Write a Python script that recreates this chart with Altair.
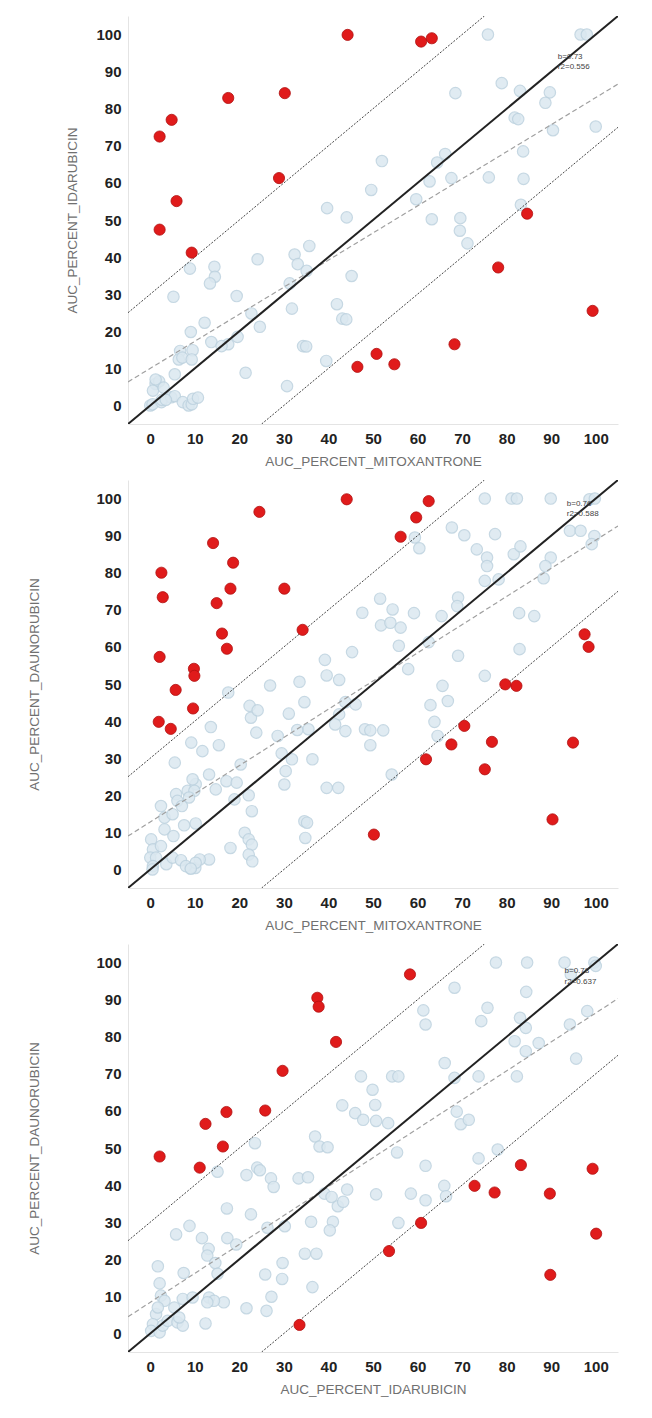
import altair as alt
import pandas as pd

# ---------------- data ----------------
# panel titles
x_titles = ["AUC_PERCENT_MITOXANTRONE", "AUC_PERCENT_MITOXANTRONE", "AUC_PERCENT_IDARUBICIN"]
y_titles = ["AUC_PERCENT_IDARUBICIN", "AUC_PERCENT_DAUNORUBICIN", "AUC_PERCENT_DAUNORUBICIN"]

# regression annotation
reg_slope = [0.73, 0.76, 0.78]
reg_intercept = [10.0, 12.8, 8.4]
reg_r2 = ["0.556", "0.588", "0.637"]
band_offset = 30
annot_x = [91.5, 93.5, 93.0]
annot_y = [94.0, 98.5, 97.6]

p1_blue = [(75.8,100),(96.6,100),(98,100),(78.9,86.9),(68.5,84.2),(83,84.8),(89.7,84.4),(88.7,81.6),
 (81.8,77.6),(82.6,77.2),(90.4,74.2),(100,75.2),(83.7,68.5),(52,65.9),(66.2,67.8),(64.4,65.5),
 (62.7,60.4),(67.6,61.3),(76,61.5),(83.8,61.1),(49.6,58.1),(59.7,55.6),(83.2,54.1),(39.7,53.2),
 (44.1,50.7),(63.2,50.2),(69.6,50.5),(69.5,47.1),(71.2,43.7),(35.7,43),(32.4,40.7),(33.1,38.1),
 (35.1,36.3),(24.1,39.4),(14.4,37.4),(14.5,34.7),(13.4,32.9),(8.9,36.9),(31.3,32.9),(45.2,34.9),
 (5.2,29.3),(19.4,29.5),(31.8,26.1),(41.9,27.3),(43.1,23.4),(44,23.2),(22.7,24.8),(24.6,21.2),
 (12.2,22.3),(19.6,18.5),(17.5,16.5),(13.7,17.1),(16,16),(9.1,19.8),(34.3,16),(35,15.9),(39.5,12),
 (21.4,8.8),(30.7,5.2),(6.7,14.7),(9.5,14.9),(6.4,12.4),(7.2,12.9),(9.3,12.4),(5.5,8.4),(1.2,5.8),
 (0.6,4.0),(2,6.5),(1.2,7.0),(0,0),(0.5,0.3),(2.5,0.9),(2.6,1.5),(4.7,2.2),(5.5,2.5),(7.3,0.9),
 (8.6,0),(9.3,0.3),(9.6,1.8),(10.7,2.1),(3,4.8),(3.5,1.5)]
p1_red = [(44.3,99.9),(60.8,98.1),(63.2,99.0),(17.5,82.9),(30.2,84.2),(4.8,77.0),(2.1,72.5),
 (28.9,61.3),(5.9,55.1),(2.1,47.4),(9.3,41.2),(84.6,51.7),(78.1,37.2),(99.3,25.5),(68.3,16.5),
 (50.8,13.9),(46.5,10.4),(54.8,11.1)]

p2_blue = [(75.1,100),(81.1,100),(82.3,100),(89.9,100),(98.6,99.8),(99.8,100),
 (67.7,92.2),(70.5,90.1),(77.4,90.4),(59.4,89.5),(60.4,86.6),(73.3,86.3),(75.6,84.1),(75.6,81.8),
 (81.6,85),(83.1,87.1),(89.9,84.1),(88.7,81.8),(94.2,91.3),(96.6,91.3),(99.7,89.9),(99.1,87.7),
 (75.1,77.8),(78.2,78.2),(88.3,78.5),(69.1,73.3),(68.9,71),(65.4,68.3),(82.8,69.1),(86.2,68.3),
 (51.6,73),(54.4,70.1),(51.8,65.8),(53.9,66.5),(56.2,65.2),(59.2,69.1),(47.6,69.2),(55.8,60.3),
 (62.5,61.3),(82.9,59.4),(57.9,54),(69.1,57.6),(45.3,58.6),(39.2,56.5),(39.6,52.3),(42.4,51.1),
 (26.9,49.6),(33.5,50.6),(75.1,52.2),(65.6,49.5),(66.8,45.4),(62.9,44.3),(63.8,39.8),(64.5,36),
 (43.8,45.1),(46.1,44.5),(42.4,41.8),(41.5,39.1),(43.8,37.3),(48.2,37.8),(49.4,37.5),(49.4,33.5),
 (52.3,37.5),(34.6,45.1),(35.5,37.8),(33,37.6),(31.1,42),(22.3,44.1),(22.6,40.9),(24.1,42.9),
 (23.8,36.9),(17.5,47.7),(13.6,38.4),(9.2,34.2),(11.7,31.9),(15.4,33.5),(28.6,36),(29.5,31.3),
 (31.8,29.7),(30.4,26.5),(30.1,22.9),(36.4,29.7),(5.5,28.8),(20.3,28.3),(13.2,25.6),(14.7,21.6),
 (17.1,23.8),(19.4,23.4),(18.9,18.9),(22.1,20),(22.8,15.7),(39.6,22),(42.2,22),(34.6,13),
 (35.2,12.6),(34.8,8.5),(54.2,25.6),(21.2,9.9),(22.1,8.1),(22.8,6.7),(22.1,4),(22.9,2.2),(18,5.8),
 (13.2,2.7),(10.1,0.4),(11.1,2.7),(9,0.4),
 (2.4,17.1),(5.8,20.3),(6.1,18.5),(8.4,21.2),(10.2,23),(9.5,24.3),(9.9,21.2),(8.7,19.4),(3.2,14),
 (5,14.9),(7.1,17.1),(3.2,10.8),(5.2,9),(7.6,11.9),(10.2,12.4),(0.2,8.1),(0.6,5.4),(2.4,6.3),
 (0,3.2),(1.3,3.2),(0.6,0.9),(0.5,0),(3.6,1.4),(5,3.2),(6.9,2.5),(8,0.9),(10.2,1.8),(9.1,0.2)]
p2_red = [(44.1,99.8),(24.5,96.4),(62.5,99.3),(59.7,94.9),(56.2,89.7),(14.1,88.0),(2.5,80.0),
 (18.6,82.7),(2.8,73.4),(18.0,75.7),(30.1,75.7),(14.9,71.8),(16.1,63.6),(34.2,64.6),(2.1,57.3),
 (17.2,59.5),(9.8,54.1),(9.9,52.2),(5.7,48.4),(9.6,43.4),(1.9,39.8),(4.6,37.9),(79.7,49.9),
 (82.2,49.5),(70.5,38.7),(67.6,33.7),(76.7,34.4),(61.9,29.7),(75.1,27.0),(94.9,34.2),(97.5,63.4),
 (98.4,60.0),(90.3,13.5),(50.2,9.4)]

p3_blue = [(77.6,100),(84.6,100),(93,100),(94.4,96.8),(99.7,100),(100,99.1),(68.3,93.2),(84.4,92.1),
 (61.3,87.1),(61.8,83.3),(75.7,87.8),(74.3,84.2),(83,85.1),(84.3,82.4),(98.1,86.9),(94.2,83.3),
 (81.8,78.8),(87.2,78.3),(84.3,76.1),(95.6,74.1),(66.1,72.9),(68.3,68.9),(73.7,69.3),(82.3,69.3),
 (47.3,69.3),(54.3,69.3),(55.7,69.3),(49.9,65.7),(50.5,61.6),(43.1,61.5),(46,59.4),(47.8,57.6),
 (50.7,57.3),(53.4,56.7),(68.8,59.8),(69.7,56.4),(71.5,57.6),(55.4,48.8),(73.7,47.2),(78,49.6),
 (61.8,45.2),(37,53.1),(38,50.4),(39.8,50.2),(23.5,51.3),(21.6,42.7),(24,44.7),(24.6,44),
 (27.1,41.8),(27.7,39.5),(15.1,43.6),(33.3,41.8),(35.4,42.1),(39.1,37.7),(40.7,36.8),(42.1,34.3),
 (43.3,35.5),(44.2,38.8),(41,30.1),(40.3,27.8),(50.7,37.5),(58.5,37.7),(61.8,35.9),(55.7,29.8),
 (66,39.8),(66.4,37),(36.1,30.1),(26.3,28.5),(30.2,28.9),(17.2,33.7),(22.6,32.1),(17.3,25.7),
 (19.3,24),(5.8,26.7),(8.8,29),(11.6,25.7),(13.1,22.8),(12.8,21),(14.6,19),(15.1,16.1),(34.7,21.5),
 (37.3,21.5),(29.7,19),(29.6,14.7),(25.8,15.9),(36.4,12.5),(27.2,9.9),(26.1,6.1),(21.6,6.8),
 (16.5,8.4),(1.7,18.1),(2.1,13.5),(7.5,16.3),
 (2.4,10.2),(3.2,8.8),(5.4,7),(7.3,9.3),(9.5,9.7),(13.2,9.7),(14.3,8.8),(12.8,8.4),(1.3,5.2),
 (1.7,7),(0.6,2.5),(0.2,0.7),(2.1,0.3),(2.8,2.1),(3.9,3.4),(6.1,3),(7.3,2.1),(6.5,4.3),(12.4,2.7)]
p3_red = [(58.3,96.8),(37.5,90.5),(37.8,88.1),(41.7,78.6),(29.7,70.8),(12.4,56.5),(17.1,59.7),
 (25.8,60.1),(16.3,50.4),(2.1,47.7),(11.1,44.7),(83.2,45.4),(99.3,44.4),(72.8,39.8),(77.3,38.0),
 (89.7,37.7),(60.8,29.8),(100.1,26.9),(53.6,22.2),(89.8,15.8),(33.5,2.3)]

panels_blue = [p1_blue, p2_blue, p3_blue]
panels_red = [p1_red, p2_red, p3_red]
y_title_pad = [16, 54, 54]

DOMAIN = [-5, 105]
FONT = "Liberation Sans"


def seg(m, c, kind):
    lo, hi = DOMAIN
    x0 = max(lo, (lo - c) / m)
    x1 = min(hi, (hi - c) / m)
    return [{"x": x0, "y": m * x0 + c, "kind": kind}, {"x": x1, "y": m * x1 + c, "kind": kind}]


def panel(i):
    xs = alt.Scale(domain=DOMAIN, nice=False, zero=False)
    ys = alt.Scale(domain=DOMAIN, nice=False, zero=False)
    xax = alt.Axis(values=list(range(0, 101, 10)), title=x_titles[i], titlePadding=8)
    yax = alt.Axis(values=list(range(0, 101, 10)), title=y_titles[i], titlePadding=y_title_pad[i])
    X = alt.X("x:Q", scale=xs, axis=xax)
    Y = alt.Y("y:Q", scale=ys, axis=yax)

    blue = pd.DataFrame(panels_blue[i], columns=["x", "y"])
    red = pd.DataFrame(panels_red[i], columns=["x", "y"])

    b_layer = alt.Chart(blue).mark_circle(size=130, color="#dbe8f0", opacity=0.85,
                                           stroke="#bdd2df", strokeWidth=1.2).encode(x=X, y=Y)
    r_layer = alt.Chart(red).mark_circle(size=125, color="#e01b1b", opacity=1,
                                          stroke="#b01010", strokeWidth=0.8).encode(x=X, y=Y)

    ident = pd.DataFrame(seg(1.0, 0.0, "id"))
    up = pd.DataFrame(seg(1.0, band_offset, "up"))
    lowr = pd.DataFrame(seg(1.0, -band_offset, "lo"))
    reg = pd.DataFrame(seg(reg_slope[i], reg_intercept[i], "reg"))

    l_id = alt.Chart(ident).mark_line(color="#222222", strokeWidth=2, clip=True).encode(x=X, y=Y)
    l_up = alt.Chart(up).mark_line(color="#444444", strokeWidth=1, strokeDash=[2, 1.5], clip=True).encode(x=X, y=Y)
    l_lo = alt.Chart(lowr).mark_line(color="#444444", strokeWidth=1, strokeDash=[2, 1.5], clip=True).encode(x=X, y=Y)
    l_reg = alt.Chart(reg).mark_line(color="#a0a0a0", strokeWidth=1.2, strokeDash=[5, 3], clip=True).encode(x=X, y=Y)

    ann = pd.DataFrame({
        "x": [annot_x[i], annot_x[i]],
        "y": [annot_y[i], annot_y[i] - 2.8],
        "t": [f"b={reg_slope[i]}", f"r2={reg_r2[i]}"],
    })
    t_layer = alt.Chart(ann).mark_text(align="left", baseline="middle", fontSize=8,
                                       font=FONT, color="#444444").encode(x=X, y=Y, text="t:N")

    return alt.layer(b_layer, l_reg, l_up, l_lo, l_id, r_layer, t_layer).properties(width=490, height=408)


chart = alt.vconcat(panel(0), panel(1), panel(2), spacing=12).properties(
    padding={"left": 19, "top": 8, "right": 5, "bottom": 5}
).configure_view(stroke=None).configure_axis(
    grid=False, ticks=False, domainColor="#e4e4e4", domainWidth=1,
    labelFont=FONT, labelFontWeight="bold", labelFontSize=15, labelColor="#222222", labelPadding=7,
    titleFont=FONT, titleFontWeight="normal", titleFontSize=13.5, titleColor="#707070",
)

chart.save("out.html", embed_options={"renderer": "svg", "actions": False})
